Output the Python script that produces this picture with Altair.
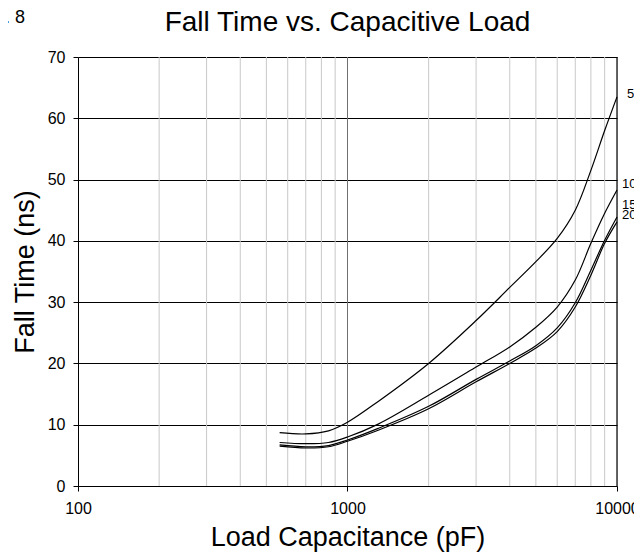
import altair as alt
import pandas as pd

# ---- data ----
caps = [560, 700, 850, 1000, 1300, 2000, 3000, 4000, 5000, 6000, 7000, 8000, 9000, 10000]
v5 = [8.7, 8.5, 9.0, 10.4, 13.8, 20.0, 27.0, 32.4, 36.6, 40.4, 45.0, 51.5, 58.0, 63.5]
v10 = [7.1, 6.9, 7.1, 8.0, 10.1, 14.8, 19.4, 22.7, 25.9, 29.2, 33.6, 39.6, 44.5, 48.3]
v15 = [6.7, 6.4, 6.6, 7.5, 9.4, 13.0, 17.4, 20.4, 22.9, 25.8, 29.9, 35.2, 40.1, 43.9]
v20 = [6.5, 6.2, 6.4, 7.3, 9.1, 12.6, 17.0, 20.0, 22.5, 25.2, 29.2, 34.4, 39.6, 43.1]

series_names = ["5", "10V", "15V", "20V"]
series_vals = [v5, v10, v15, v20]

label_y = [64.0, 49.2, 45.9, 44.3]
label_x = [10000, 10000, 10000, 10000]

x_ticks = [100, 1000, 10000]
y_ticks = [0, 10, 20, 30, 40, 50, 60, 70]
minor_grid = [200, 300, 400, 500, 600, 700, 800, 900,
              2000, 3000, 4000, 5000, 6000, 7000, 8000, 9000]
major_grid = [1000]
edge_grid = [10000]

title_text = "Fall Time vs. Capacitive Load"
fig_text = "Fig. 8"

FONT = "Liberation Sans"
W, H = 539, 429

rows = []
for name, vals in zip(series_names, series_vals):
    for c, v in zip(caps, vals):
        rows.append({"C": c, "T": v, "S": name})
df = pd.DataFrame(rows)

labels_df = pd.DataFrame({"C": label_x, "T": label_y, "S": series_names})

xscale = alt.Scale(type="log", domain=[100, 10000], nice=False)
yscale = alt.Scale(domain=[0, 70], nice=False, zero=False)

xaxis = alt.Axis(
    values=x_ticks, format="d", grid=False,
    title="Load Capacitance (pF)", titleFont=FONT, titleFontSize=27,
    titleFontWeight="normal", titleColor="black", titlePadding=8,
    labelFont=FONT, labelFontSize=16, labelColor="black", labelPadding=9,
    tickColor="black", tickSize=5, domainColor="black", labelFlush=False,
)
yaxis = alt.Axis(
    values=y_ticks, grid=True, gridColor="black", gridWidth=1,
    title="Fall Time (ns)", titleFont=FONT, titleFontSize=27,
    titleFontWeight="normal", titleColor="black", titlePadding=8,
    labelFont=FONT, labelFontSize=16, labelColor="black", labelPadding=8,
    tickColor="black", tickSize=5, domainColor="black",
)

X = alt.X("C:Q", scale=xscale, axis=xaxis)
Y = alt.Y("T:Q", scale=yscale, axis=yaxis)

minor = alt.Chart(pd.DataFrame({"C": minor_grid})).mark_rule(
    color="#c8c8c8", strokeWidth=1).encode(x=X)
major = alt.Chart(pd.DataFrame({"C": major_grid})).mark_rule(
    color="#707070", strokeWidth=1).encode(x=X)
edge = alt.Chart(pd.DataFrame({"C": edge_grid})).mark_rule(
    color="black", strokeWidth=1.2).encode(x=X)

lines = alt.Chart(df).mark_line(
    color="black", strokeWidth=1.2, interpolate="catmull-rom").encode(
    x=X, y=Y, detail="S:N")

lab5 = alt.Chart(labels_df[labels_df.S == "5"]).mark_text(
    align="left", baseline="middle", dx=10, font=FONT, fontSize=13,
    color="black").encode(x=X, y=Y, text="S:N")
labrest = alt.Chart(labels_df[labels_df.S != "5"]).mark_text(
    align="left", baseline="middle", dx=5, font=FONT, fontSize=13,
    color="black").encode(x=X, y=Y, text="S:N")

title = alt.Chart(pd.DataFrame({"t": [title_text]})).mark_text(
    align="center", baseline="alphabetic", font=FONT, fontSize=28,
    color="black").encode(x=alt.value(W / 2), y=alt.value(-26), text="t:N")

fig = alt.Chart(pd.DataFrame({"t": [fig_text]})).mark_text(
    align="right", baseline="alphabetic", font=FONT, fontSize=18,
    color="black").encode(x=alt.value(-53), y=alt.value(-34), text="t:N")

chart = alt.layer(minor, major, edge, lines, lab5, labrest, title, fig).properties(
    width=W, height=H,
    autosize=alt.AutoSizeParams(type="none"),
    padding={"left": 70, "top": 49, "right": 17, "bottom": 66},
).configure_view(stroke=None).configure(background="white")

chart.save("out.html", embed_options={"renderer": "svg", "actions": False})
